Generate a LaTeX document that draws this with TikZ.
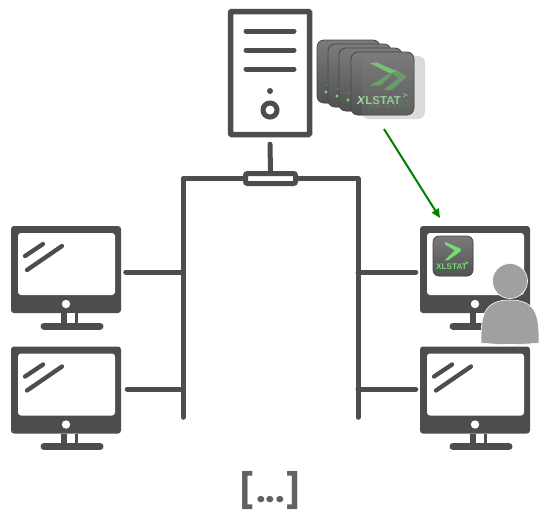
\documentclass[tikz,border=0pt]{standalone}
\usepackage{fontspec}
\setmainfont{Liberation Sans}
\newfontfamily\dotsfont{Poppins}
\usetikzlibrary{arrows.meta,calc}
\definecolor{ink}{HTML}{4D4D4D}
\definecolor{logogreen}{HTML}{74DC74}
\definecolor{logodim}{HTML}{5FA85F}
\definecolor{persongray}{HTML}{A0A0A0}
\tikzset{
  link/.style={draw=ink,line width=5pt,line cap=round,line join=round},
  switchbox/.style={draw=ink,fill=white,line width=5pt,rounded corners=2pt,minimum width=50pt,minimum height=10pt,inner sep=0pt},
  serverbox/.style={draw=ink,fill=white,line width=5.5pt,rounded corners=1pt,minimum width=79pt,minimum height=123pt,inner sep=0pt},
  port/.style={inner sep=0pt,minimum size=0pt},
  tile/.style={rounded corners=7pt,top color=black!52,bottom color=black!68,draw=black!72,line width=0.7pt},
  pics/monitor/.style={code={
    \fill[ink,rounded corners=3pt] (0,0) rectangle (110,87);
    \fill[white,rounded corners=3pt] (7,7) rectangle (104,69);
    \fill[white] (55,78) circle (4.2);
    \fill[ink] (50,87) rectangle (67,97);
    \fill[white] (56,87) rectangle (64,97);
    \draw[ink,line width=7pt,line cap=round] (33,100) -- (89,100);
  }},
  pics/glass/.style={code={
    \draw[ink,line width=4.3pt,line cap=round] (14,30) -- (32,18);
    \draw[ink,line width=4.3pt,line cap=round] (16,44) -- (51,20);
  }},
  pics/logo/.style={code={
    \fill[logodim] (37.3,18) -- (44,17) -- (55.7,24.7) -- (40.7,38) -- (32.3,38) -- (47.3,26.3) -- cycle;
    \fill[logogreen] (19,11.3) -- (25.7,10.3) -- (44.7,19) -- (39,21.3) -- cycle;
    \fill[logogreen!80!black] (19,33.7) -- (39,21.3) -- (44.7,19) -- (29,33.7) -- cycle;
  }},
  pics/specks/.style={code={
    \fill[logogreen] (9,52) circle (1.6);
    \fill[logogreen] (10,45) circle (0.7);
  }},
}
\newcommand{\xlback}[2]{%
  \begin{scope}[shift={(#1,#2)}]
    \fill[tile] (0,0) rectangle (63,63);
    \pic {specks};
  \end{scope}}
\begin{document}
\begin{tikzpicture}[x=1pt,y=-1pt]
\useasboundingbox (0,0) rectangle (543,515);
\fill[white] (0,0) rectangle (543,515);

% server
\node[serverbox] (server) at (270,73) {};
\draw[link] (246,31) -- (294,31) (246,50) -- (294,50) (246,69) -- (294,69);
\fill[ink] (270,91) circle (3);
\draw[ink,line width=5pt] (270,110) circle (7);

% network
\node[switchbox] (switch) at (270.5,178.5) {};
\node[port] (busL) at (183,417.5) {};
\node[port] (busR) at (358,417.5) {};
\node[port] (up) at (270,144) {};
\draw[link] (up) -- (switch.north);
\draw[link] (switch.west) -| (busL);
\draw[link] (switch.east) -| (busR);

% monitors
\pic at (11,226) {monitor}; \pic at (11,226) {glass};
\pic at (11,346.5) {monitor}; \pic at (11,346.5) {glass};
\pic at (420,226) {monitor};
\pic at (420,346.5) {monitor}; \pic at (420,346.5) {glass};
\node[port] (pc1) at (125.5,272) {};
\node[port] (pc2) at (127,389) {};
\node[port] (pc3) at (416,272) {};
\node[port] (pc4) at (416,389) {};
\draw[link] (pc1) -- (pc1 -| busL);
\draw[link] (pc2) -- (pc2 -| busL);
\draw[link] (pc3) -- (pc3 -| busR);
\draw[link] (pc4) -- (pc4 -| busR);

% stack of tiles
\xlback{317}{40}
\xlback{328}{44}
\xlback{339}{48}
\begin{scope}[shift={(351,52)}]
  \fill[tile] (0,0) rectangle (63,63);
  \pic {logo};
  \draw[logogreen,line width=0.8pt] (52,41.5) -- (56,43) -- (52,45);
  \node[port,text=logogreen!65!white] at (28,48.5) {\fontsize{11.5}{11.5}\selectfont\bfseries\textit{X}LSTAT};
\end{scope}
\begin{scope}[shift={(362,56)},opacity=0.28]
  \fill[black!50,rounded corners=7pt] (0,0) rectangle (63,63);
  \node[port,text=logodim] at (28,48.5) {\fontsize{11.5}{11.5}\selectfont\bfseries\textit{X}LSTAT};
\end{scope}

% installed tile on monitor
\begin{scope}[shift={(433,236)}]
  \fill[tile,rounded corners=6pt] (0,0) rectangle (40,40);
  \fill[logogreen] (12.3,6) -- (27.7,12.7) -- (27.7,15.3) -- (15,24.3) -- (11.7,24.3) -- (21.7,14.3) -- (12,8.5) -- cycle;
  \draw[logogreen,line width=0.6pt] (32,25.5) -- (35,26.7) -- (32,28);
  \node[port,text=logogreen] at (18.5,31) {\fontsize{8.2}{8.2}\selectfont\bfseries XLSTAT};
\end{scope}

% person
\fill[persongray,draw=white,line width=0.6pt] (510,281) circle (17.5);
\fill[persongray,draw=white,line width=0.6pt] (481,343) .. controls (481,318) and (482,300) .. (510,300)
  .. controls (538,300) and (539,318) .. (539,343)
  .. controls (520,345) and (500,345) .. (481,343) -- cycle;

% arrow
\coordinate (from) at (384,129);
\coordinate (to) at (440,218);
\draw[-{Triangle[length=9pt,width=8pt]},draw=green!50!black,fill=green!50!black,line width=2pt] (from) -- (to);

% ellipsis
\node[port,text=black!62] (more) at (270.5,491) {\fontsize{34}{34}\selectfont\dotsfont\bfseries [...]};
\end{tikzpicture}
\end{document}
